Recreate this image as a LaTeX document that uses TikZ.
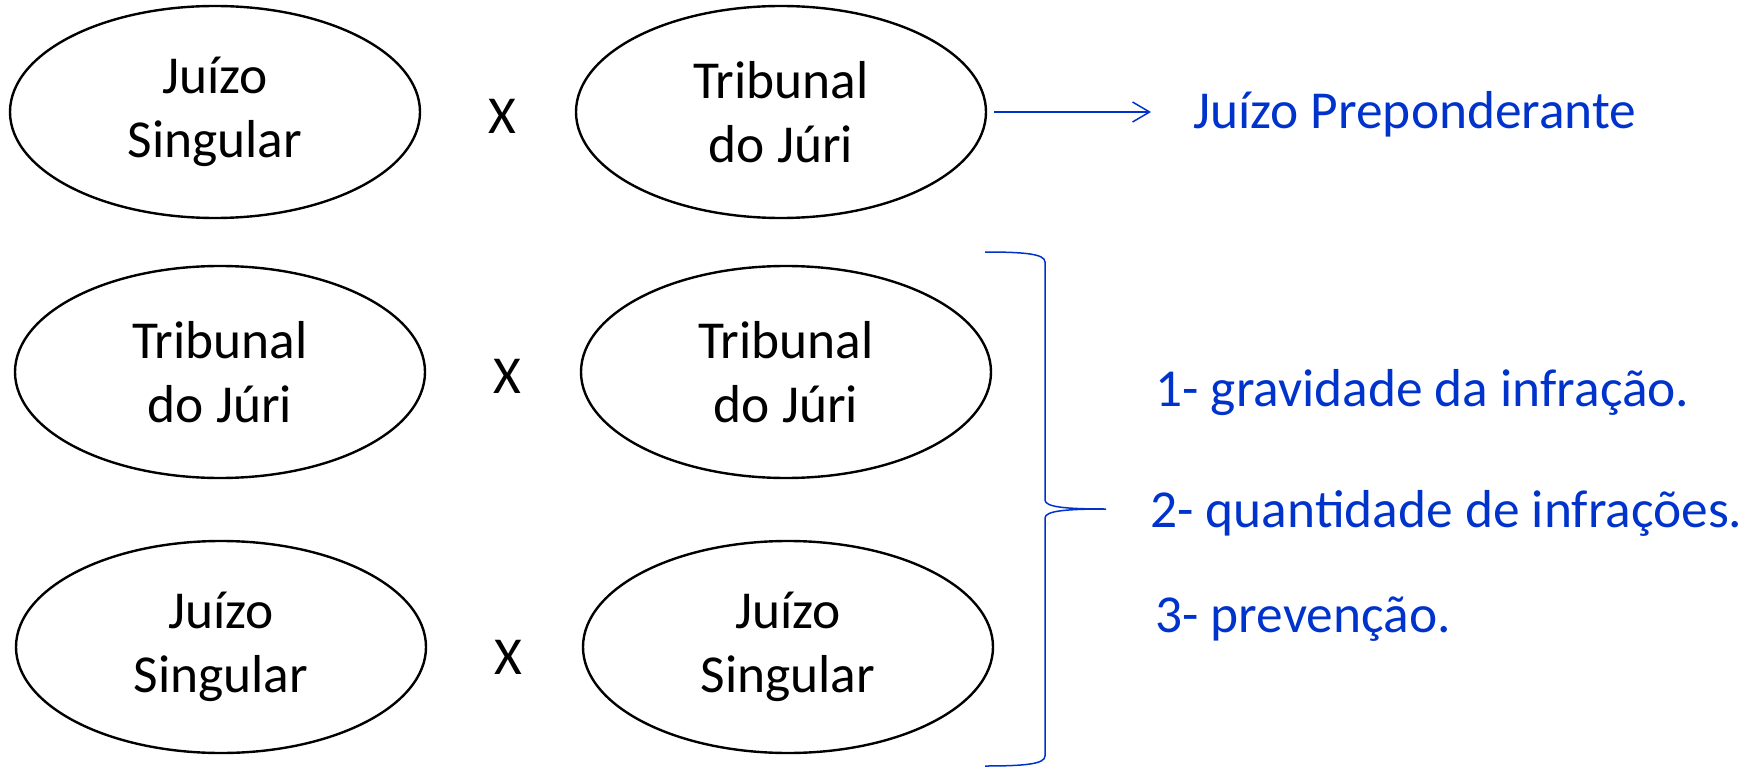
\documentclass[tikz,border=0pt]{standalone}
\usepackage{fontspec}
\setmainfont{Carlito}
\usetikzlibrary{shapes.geometric,arrows.meta}
\definecolor{azul}{RGB}{0,51,204}
\begin{document}
\begin{tikzpicture}[x=0.5pt,y=-0.5pt,
    orgao/.style={ellipse,draw,line width=1.2pt,minimum width=205pt,minimum height=106pt,
      inner sep=0pt,align=center,execute at begin node={\rule{0pt}{23pt}},
      font=\fontsize{26.7}{32}\selectfont},
    versus/.style={font=\fontsize{26.7}{32}\selectfont},
    item/.style={anchor=base west,text=azul,inner sep=0pt,font=\fontsize{26.7}{32}\selectfont},
    seta/.style={draw=azul,line width=0.75pt,-{Straight Barb[length=8.5pt,width=10pt]}},
    chave/.style={draw=azul,line width=0.75pt}]
  \useasboundingbox (0,0) rectangle (1746,781);
  % primeira linha
  \node[orgao] (js1) at (215,112) {Juízo\\Singular};
  \node[versus] (x1) at (502,116) {X};
  \node[orgao] (tj1) at (781,112) {Tribunal\\do Júri};
  \node[item] (prep) at (1193,129) {Juízo Preponderante};
  \coordinate (fimseta) at (1151,112);
  \draw[seta] ([xshift=3.5pt]tj1.east) -- (fimseta);
  % segunda e terceira linhas
  \node[orgao] (tj2) at (220,372) {Tribunal\\do Júri};
  \node[versus] (x2) at (507,376) {X};
  \node[orgao] (tj3) at (786,372) {Tribunal\\do Júri};
  \node[orgao] (js2) at (221,647) {Juízo\\Singular};
  \node[versus] (x3) at (508,657) {X};
  \node[orgao] (js3) at (788,647) {Juízo\\Singular};
  % chave
  \coordinate (chtopo) at (985,252);
  \coordinate (chmeio) at (1106,509);
  \coordinate (chbase) at (985,766);
  \draw[chave] (chtopo) .. controls (1025,252) and (1045,254) .. (1045,262)
    -- (1045,500) .. controls (1045,507) and (1065,509) .. (chmeio)
    .. controls (1065,509) and (1045,511) .. (1045,518)
    -- (1045,756) .. controls (1045,764) and (1025,766) .. (chbase);
  % criterios
  \node[item] (crit1) at (1155,406) {1- gravidade da infração.};
  \node[item] (crit2) at (1150,527) {2- quantidade de infrações.};
  \node[item] (crit3) at (1155,632) {3- prevenção.};
\end{tikzpicture}
\end{document}
